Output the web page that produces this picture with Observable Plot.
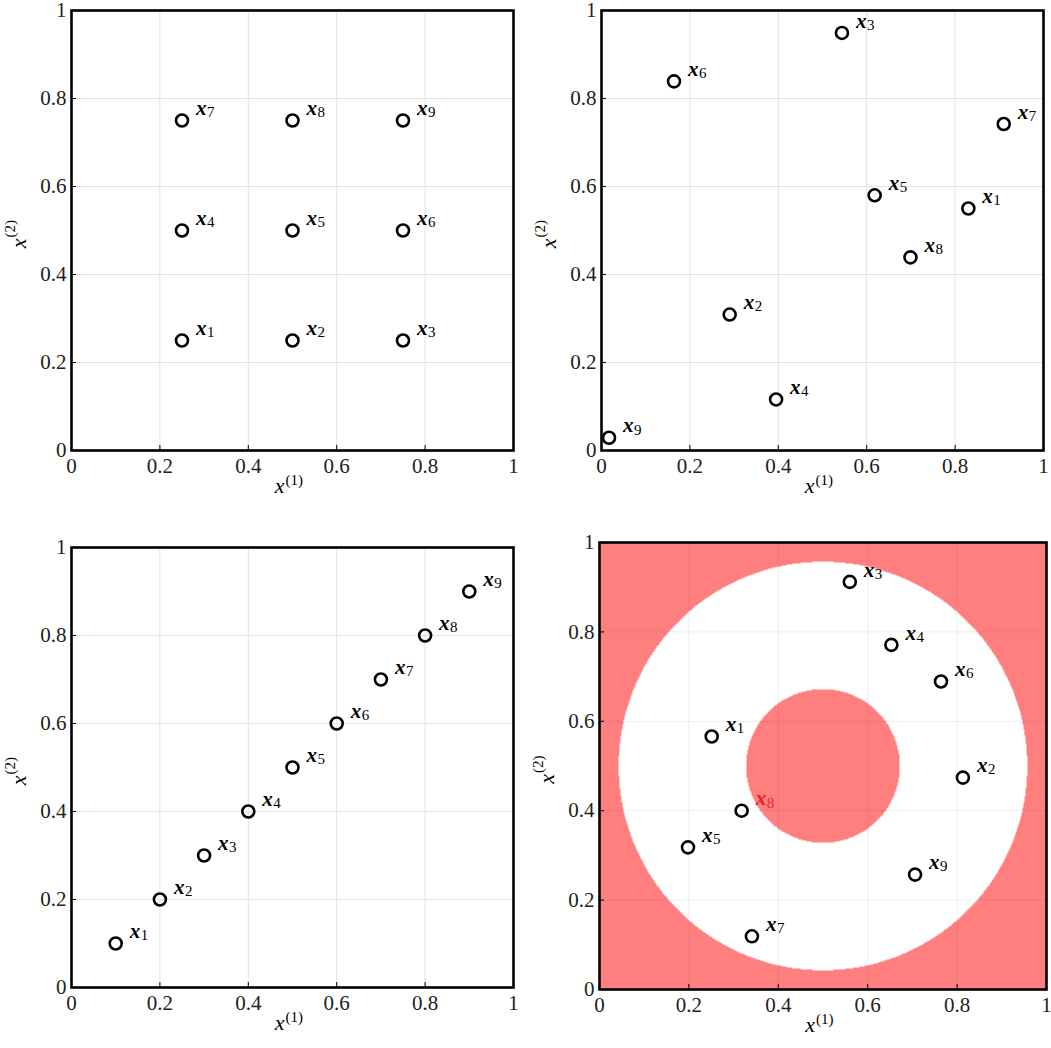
<!DOCTYPE html>
<html><head><meta charset="utf-8">
<script src="https://cdn.jsdelivr.net/npm/d3@7"></script>
<script src="https://cdn.jsdelivr.net/npm/@observablehq/plot@0.6"></script>
<style>
body{margin:0;background:#fff;}
#wrap{position:relative;width:1051px;height:1048px;}
.panel{position:absolute;}
.panel svg, .panel svg text{font-family:"Liberation Serif",serif !important;}
</style></head>
<body><div id="wrap"></div>
<script>
const ticks = [0, 0.2, 0.4, 0.6, 0.8, 1];
const tickFmt = d => String(+d.toFixed(1));
const xLabel = {main: "x", sup: "(1)"};
const yLabel = {main: "x", sup: "(2)"};

// Panel 1: regular grid
const p1X = [0.25, 0.5, 0.75, 0.25, 0.5, 0.75, 0.25, 0.5, 0.75];
const p1Y = [0.25, 0.25, 0.25, 0.5, 0.5, 0.5, 0.75, 0.75, 0.75];
const p1Idx = ["1","2","3","4","5","6","7","8","9"];
// Panel 2: random
const p2X = [0.830, 0.290, 0.544, 0.395, 0.618, 0.164, 0.910, 0.699, 0.017];
const p2Y = [0.550, 0.309, 0.949, 0.116, 0.580, 0.839, 0.742, 0.439, 0.029];
const p2Idx = ["1","2","3","4","5","6","7","8","9"];
// Panel 3: diagonal
const p3X = [0.1, 0.2, 0.3, 0.4, 0.5, 0.6, 0.7, 0.8, 0.9];
const p3Y = [0.1, 0.2, 0.3, 0.4, 0.5, 0.6, 0.7, 0.8, 0.9];
const p3Idx = ["1","2","3","4","5","6","7","8","9"];
// Panel 4: ring region
const p4X = [0.251, 0.813, 0.560, 0.653, 0.198, 0.764, 0.341, 0.318, 0.706];
const p4Y = [0.566, 0.474, 0.912, 0.771, 0.318, 0.689, 0.119, 0.400, 0.257];
const p4Idx = ["1","2","3","4","5","6","7","8","9"];
const p4LabelColor = ["black","black","black","black","black","black","black","#e8201c","black"];
const ringCenter = [0.5, 0.5];
const ringInner = 0.172;
const ringOuter = 0.457;
const ringColors = ["#ffffff", "#ff7f7f"];

const FONT = "Liberation Serif";

function pts(X, Y, I, C) {
  return X.map((x, i) => ({x, y: Y[i], i: I[i], c: C ? C[i] : "black"}));
}

function panel({left, top, L, T, W, H, R, B, data, ring}) {
  const marks = [];
  if (ring) {
    marks.push(Plot.raster({
      x1: 0, y1: 0, x2: 1, y2: 1, pixelSize: 1,
      fill: (x, y) => {
        const r = Math.hypot(x - ringCenter[0], y - ringCenter[1]);
        return (r < ringInner || r > ringOuter) ? 1 : 0;
      }
    }));
  }
  const gs = ring ? "#000" : "#e2e2e2", go = ring ? 0.07 : 1;
  marks.push(
    Plot.gridX(ticks, {stroke: gs, strokeOpacity: go, strokeWidth: 1}),
    Plot.gridY(ticks, {stroke: gs, strokeOpacity: go, strokeWidth: 1}),
    Plot.axisX({ticks, tickSize: -5, tickFormat: () => "", strokeWidth: 1, label: null}),
    Plot.axisY({ticks, tickSize: -5, tickFormat: () => "", strokeWidth: 1, label: null}),
    Plot.axisX({ticks, tickSize: 0, tickPadding: 8, tickFormat: tickFmt, fontSize: 21, fill: "#222", label: null, fontFamily: FONT}),
    Plot.axisY({ticks, tickSize: 0, tickPadding: 5, tickFormat: tickFmt, fontSize: 21, fill: "#222", label: null, fontFamily: FONT}),
    Plot.frame({stroke: "black", strokeWidth: 2.6}),
    Plot.dot(data, {x: "x", y: "y", r: 6, stroke: "black", strokeWidth: 2.6, fill: "none"}),
    Plot.text(data, {x: "x", y: "y", text: () => "x", dx: 14, dy: -12, textAnchor: "start",
      fontWeight: "bold", fontStyle: "italic", fontSize: 21, fill: "c", fontFamily: FONT}),
    Plot.text(data, {x: "x", y: "y", text: "i", dx: 25, dy: -8, textAnchor: "start",
      fontSize: 15, fill: "c", fontFamily: FONT}),
    Plot.text([xLabel], {frameAnchor: "bottom", text: "main", textAnchor: "end", dx: -8, dy: 42,
      fontStyle: "italic", fontSize: 22, fontFamily: FONT}),
    Plot.text([xLabel], {frameAnchor: "bottom", text: "sup", textAnchor: "start", dx: -7, dy: 34,
      fontSize: 15, fontFamily: FONT}),
    Plot.text([yLabel], {frameAnchor: "left", text: "main", textAnchor: "end", rotate: -90, dx: -53, dy: 8,
      fontStyle: "italic", fontSize: 22, fontFamily: FONT}),
    Plot.text([yLabel], {frameAnchor: "left", text: "sup", textAnchor: "start", rotate: -90, dx: -61, dy: 7,
      fontSize: 15, fontFamily: FONT})
  );
  const chart = Plot.plot({
    width: L + W + R, height: T + H + B,
    marginLeft: L, marginTop: T, marginRight: R, marginBottom: B,
    x: {domain: [0, 1], axis: null},
    y: {domain: [0, 1], axis: null},
    color: {type: "linear", domain: [0, 1], range: ringColors, legend: false},
    style: {fontFamily: FONT, fontSize: "21px", background: "transparent", color: "black", overflow: "visible"},
    marks
  });
  const div = document.createElement("div");
  div.className = "panel";
  div.style.left = left + "px";
  div.style.top = top + "px";
  div.appendChild(chart);
  document.getElementById("wrap").appendChild(div);
}

panel({left: 0, top: 0, L: 71, T: 10, W: 442, H: 440, R: 10, B: 70, data: pts(p1X, p1Y, p1Idx)});
panel({left: 530, top: 0, L: 71, T: 10, W: 442, H: 440, R: 8, B: 70, data: pts(p2X, p2Y, p2Idx)});
panel({left: 0, top: 537, L: 71, T: 10, W: 442, H: 440, R: 10, B: 61, data: pts(p3X, p3Y, p3Idx)});
panel({left: 530, top: 532, L: 69, T: 10, W: 447, H: 447, R: 4, B: 59, data: pts(p4X, p4Y, p4Idx, p4LabelColor), ring: true});
</script></body></html>
